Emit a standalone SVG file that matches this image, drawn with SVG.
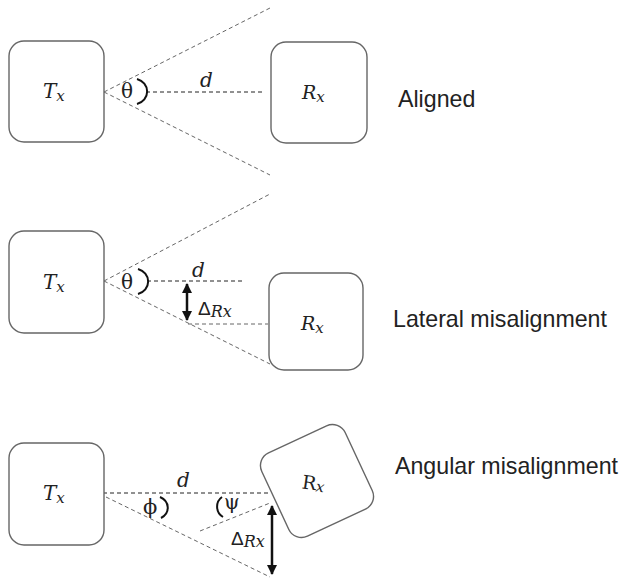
<svg xmlns="http://www.w3.org/2000/svg" width="620" height="579" viewBox="0 0 620 579">
<defs>
<style>
.box{fill:#fff;stroke:#666;stroke-width:1.4}
.dash{fill:none;stroke:#666;stroke-width:1;stroke-dasharray:4 3}
.dashd{fill:none;stroke:#222;stroke-width:1;stroke-dasharray:4 3}
.arc{fill:none;stroke:#111;stroke-width:2}
.arr{fill:none;stroke:#111;stroke-width:2.5}
.lbl{font-family:"Liberation Sans",Arial,sans-serif;font-size:23.2px;fill:#222}
.m{font-family:"DejaVu Serif","Liberation Serif",serif;font-style:italic;fill:#222}
.g{font-family:"DejaVu Serif","Liberation Serif",serif;fill:#222}
.s{font-family:"Liberation Sans",Arial,sans-serif;fill:#222}
</style>
<marker id="ah" viewBox="0 0 10 10" refX="9" refY="5" markerWidth="4" markerHeight="4" orient="auto-start-reverse">
<path d="M0,0 L10,5 L0,10 z" fill="#111"/>
</marker>
</defs>
<rect width="620" height="579" fill="#fff"/>

<g id="connectors">
<!-- panel 1 -->
<path class="dash" d="M104,92 L270,8"/>
<path class="dash" d="M104,92 L270,175"/>
<path class="dashd" d="M146,92 L263,92"/>
<path class="arc" d="M137,79 A14,13 0 0 1 137,104"/>
<!-- panel 2 -->
<path class="dash" d="M104,281 L270,194"/>
<path class="dash" d="M104,281 L270,364"/>
<path class="dashd" d="M147,281 L245,281"/>
<path class="dash" d="M188,324 L268,324"/>
<path class="arc" d="M138,269 A14,13 0 0 1 138,294"/>
<path class="arr" d="M187,284 L187,320" marker-start="url(#ah)" marker-end="url(#ah)"/>
<!-- panel 3 -->
<path class="dashd" d="M103,493 L271,493"/>
<path class="dash" d="M106,497 L270,577"/>
<path class="dash" d="M200,531 L270,503"/>
<path class="arc" d="M160,497 A14,12 0 0 1 161,518"/>
<path class="arc" d="M222,497 A12,12 0 0 0 223,517"/>
<path class="arr" d="M272,506 L272,574" marker-start="url(#ah)" marker-end="url(#ah)"/>
</g>

<!-- panel 1 -->
<g id="tx1">
<rect class="box" x="9" y="41" width="95" height="101" rx="15"/>
<text class="m" x="43" y="98" font-size="20">T<tspan font-size="15" dy="3">x</tspan></text>
</g>
<g id="rx1">
<rect class="box" x="271" y="42" width="96" height="101" rx="15"/>
<text class="m" x="302" y="99" font-size="19">R<tspan font-size="15" dy="3">x</tspan></text>
</g>
<text class="g" x="121" y="98" font-size="20">θ</text>
<text class="m" x="200" y="87" font-size="20">d</text>
<text class="lbl" x="398" y="107">Aligned</text>

<!-- panel 2 -->
<g id="tx2">
<rect class="box" x="9" y="231" width="95" height="102" rx="15"/>
<text class="m" x="43" y="289" font-size="20">T<tspan font-size="15" dy="3">x</tspan></text>
</g>
<g id="rx2">
<rect class="box" x="269" y="273" width="94" height="97" rx="15"/>
<text class="m" x="301" y="330" font-size="19">R<tspan font-size="15" dy="3">x</tspan></text>
</g>
<text class="g" x="121" y="289" font-size="20">θ</text>
<text class="m" x="192" y="277" font-size="20">d</text>
<text class="s" x="198" y="315" font-size="19">Δ<tspan class="m" font-size="16" dy="2">Rx</tspan></text>
<text class="lbl" x="393" y="327">Lateral misalignment</text>

<!-- panel 3 -->
<g id="tx3">
<rect class="box" x="9" y="443" width="95" height="102" rx="15"/>
<text class="m" x="43" y="500" font-size="20">T<tspan font-size="15" dy="3">x</tspan></text>
</g>
<g id="rx3">
<rect class="box" x="271" y="435" width="92" height="92" rx="14" transform="rotate(-25 317 481)"/>
<text class="g" x="302" y="490" font-size="19" transform="rotate(8 314 484)">R<tspan class="m" font-size="15" dy="1">x</tspan></text>
</g>
<text class="g" x="143" y="514" font-size="21">ϕ</text>
<text class="g" x="224" y="509" font-size="20">ψ</text>
<text class="m" x="177" y="487" font-size="20">d</text>
<text class="s" x="231" y="545" font-size="19">Δ<tspan class="m" font-size="16" dy="2">Rx</tspan></text>
<text class="lbl" x="395" y="474">Angular misalignment</text>
</svg>
